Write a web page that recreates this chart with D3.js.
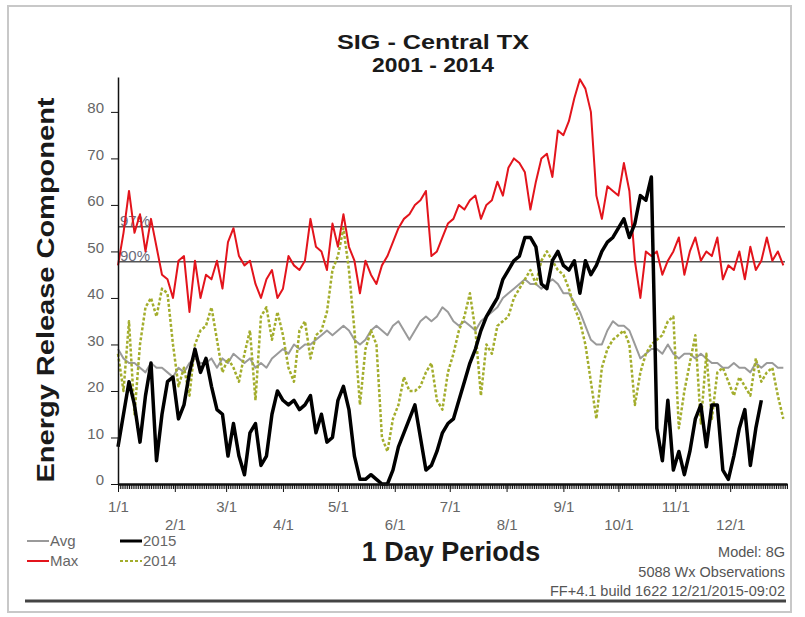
<!DOCTYPE html>
<html>
<head>
<meta charset="utf-8">
<script src="https://cdn.jsdelivr.net/npm/d3@7"></script>
<style>
  body { margin: 0; background: #fff; }
  svg { font-family: Arial, "Liberation Sans", sans-serif; }
  .axis path, .axis line { stroke: #111; }
  .axis text { fill: #666; font-size: 15px; }
</style>
</head>
<body>
<svg width="805" height="617"></svg>
<script>
'use strict';

// one value every STEP days, starting 1/1
var STEP = 3;

var avgVals = [
  29,27,26,26,25,24,26,25,25,24,
  23,25,24,26,27,26,26,27,25,27,
  26,28,27,26,27,25,26,25,27,28,
  29,28,30,29,30,30,31,32,33,32,
  33,34,33,31,30,31,33,34,33,32,
  34,35,33,31,33,35,36,35,36,38,
  37,35,34,35,34,33,35,36,37,38,
  40,41,42,43,44,43,43,42,43,44,
  43,41,41,39,37,34,31,30,30,33,
  35,34,34,33,30,27,28,29,29,28,
  30,28,27,28,28,27,28,27,26,26,
  25,25,26,25,25,24,26,25,26,26,
  25,25
];

var maxVals = [
  47,54,63,54,58,50,57,51,45,44,
  40,48,49,37,48,40,45,44,48,42,
  52,55,49,47,48,43,40,44,46,40,
  42,49,47,46,48,57,51,50,46,56,
  51,58,51,48,41,48,45,43,47,49,
  52,55,57,58,60,61,63,49,50,53,
  56,57,60,59,61,62,57,60,61,65,
  62,68,70,69,67,59,65,70,71,66,
  76,75,78,83,87,85,80,62,57,64,
  63,62,69,63,48,40,50,49,50,45,
  48,50,53,45,50,53,48,50,49,53,
  44,47,46,50,44,51,46,48,53,48,
  50,47
];

var vals2015 = [
  8,15,22,17,9,19,26,5,15,22,
  23,14,17,24,29,24,27,21,16,15,
  6,13,6,2,11,13,4,6,15,20,
  18,17,18,16,17,19,11,15,9,10,
  18,21,16,6,1,1,2,1,0,0,
  3,8,11,14,17,10,3,4,7,11,
  13,14,18,22,26,29,33,36,38,40,
  44,46,48,49,53,53,51,43,42,48,
  50,47,46,48,41,48,45,47,50,52,
  53,55,57,53,56,62,61,66,12,5,
  18,3,7,2,7,14,17,8,17,17,
  3,1,6,12,16,4,12,18
];

var vals2014 = [
  28,20,35,15,30,38,40,36,42,41,
  30,21,25,19,30,33,34,38,31,24,
  27,25,22,28,33,18,36,38,31,37,
  32,25,22,33,35,27,32,33,37,46,
  49,55,46,33,17,29,33,30,10,7,
  14,17,23,20,20,21,24,26,18,16,
  24,28,33,36,41,33,19,30,28,34,
  35,36,40,42,44,46,43,48,50,48,
  46,45,42,38,35,30,22,14,25,29,
  31,32,33,30,17,24,28,30,31,32,
  35,36,12,20,26,32,13,28,14,24,
  25,22,19,23,21,19,27,22,24,25,
  19,14
];

var pctNames = ['97%', '90%'];
var pctVals = [55.3, 47.8];
var yTicks = [0, 10, 20, 30, 40, 50, 60, 70, 80];
var infoLines = ['Model: 8G', '5088 Wx Observations', 'FF+4.1 build 1622 12/21/2015-09:02'];

var svg = d3.select('svg'),
    margin = {top: 77, right: 18, bottom: 133, left: 118},
    width = svg.attr('width') - margin.left - margin.right,
    height = svg.attr('height') - margin.top - margin.bottom;

// frame round the whole picture
svg.append('rect')
    .attr('x', 8).attr('y', 6)
    .attr('width', 783).attr('height', 606)
    .attr('fill', '#fff')
    .attr('stroke', '#c8c8c8')
    .attr('stroke-width', 2);

var canvas = svg.append('g')
    .attr('transform', 'translate(' + margin.left + ',' + margin.top + ')');

var start = new Date(2015, 0, 1), end = new Date(2016, 0, 1);
var x = d3.scaleTime().domain([start, end]).range([0, width]);
var y = d3.scaleLinear().domain([0, 87.5]).range([height, 0]);

function toPoints(vals) {
    return vals.map(function(v, i) {
        return {date: d3.timeDay.offset(start, i * STEP), value: v};
    });
}

// titles (glyphs a little wide, as in the original)
svg.append('text')
    .attr('x', 433).attr('y', 49)
    .attr('text-anchor', 'middle')
    .attr('textLength', 192)
    .attr('lengthAdjust', 'spacingAndGlyphs')
    .style('font-size', '21px').style('font-weight', 'bold').style('fill', '#1a1a1a')
    .text('SIG - Central TX');
svg.append('text')
    .attr('x', 433).attr('y', 72)
    .attr('text-anchor', 'middle')
    .attr('textLength', 122)
    .attr('lengthAdjust', 'spacingAndGlyphs')
    .style('font-size', '21px').style('font-weight', 'bold').style('fill', '#1a1a1a')
    .text('2001 - 2014');

svg.append('text')
    .attr('transform', 'translate(54,290) rotate(-90)')
    .attr('text-anchor', 'middle')
    .attr('textLength', 385)
    .attr('lengthAdjust', 'spacingAndGlyphs')
    .style('font-size', '24px').style('font-weight', 'bold').style('fill', '#1a1a1a')
    .text('Energy Release Component');

// percentile lines
pctVals.forEach(function(v, i) {
    canvas.append('line')
        .attr('x1', 0).attr('x2', width - 2)
        .attr('y1', y(v)).attr('y2', y(v))
        .attr('stroke', '#555').attr('stroke-width', 1.5);
    canvas.append('text')
        .attr('x', 2).attr('y', y(v) - 1)
        .style('font-size', '15px').style('fill', '#6a6a7a')
        .text(pctNames[i]);
});

var line = d3.line()
    .x(function(d) { return x(d.date); })
    .y(function(d) { return y(d.value); });

var series = [
    {name: 'Max', vals: maxVals, color: '#e3141c', w: 2, dash: null},
    {name: 'Avg', vals: avgVals, color: '#9a9a9a', w: 2, dash: null},
    {name: '2014', vals: vals2014, color: '#a3ad2c', w: 2.5, dash: '3,2'},
    {name: '2015', vals: vals2015, color: '#000', w: 3.5, dash: null}
];

canvas.selectAll('.series')
    .data(series)
    .enter()
    .append('path')
    .attr('class', 'series')
    .attr('fill', 'none')
    .attr('stroke', function(d) { return d.color; })
    .attr('stroke-width', function(d) { return d.w; })
    .attr('stroke-dasharray', function(d) { return d.dash; })
    .attr('stroke-linejoin', 'round')
    .attr('d', function(d) { return line(toPoints(d.vals)); });

// y axis
var yAxis = canvas.append('g')
    .attr('class', 'axis axis--y')
    .call(d3.axisLeft(y).tickValues(yTicks).tickSize(7).tickPadding(7).tickSizeOuter(0));
yAxis.select('.domain').attr('stroke-width', 1.5);
yAxis.selectAll('text').attr('dy', '0.05em');

// x axis: daily ticks, then month ticks with labels on two rows
var xDays = canvas.append('g')
    .attr('class', 'axis axis--x')
    .attr('transform', 'translate(0,' + height + ')')
    .call(d3.axisBottom(x).ticks(d3.timeDay.every(1)).tickSize(5).tickSizeOuter(0).tickFormat(''));
xDays.selectAll('.tick line').attr('stroke', '#222').attr('stroke-width', 1);
xDays.select('.domain').attr('stroke-width', 2.5);

var xMonths = canvas.append('g')
    .attr('class', 'axis axis--x')
    .attr('transform', 'translate(0,' + height + ')')
    .call(d3.axisBottom(x)
        .tickValues(d3.timeMonth.range(start, end))
        .tickSize(8)
        .tickFormat(d3.timeFormat('%-m/%-d')));
xMonths.select('.domain').remove();
xMonths.selectAll('.tick text')
    .attr('y', function(d, i) { return i % 2 ? 35 : 17; })
    .attr('dy', '0.71em');

// legend
var legend = [
    {label: 'Avg', color: '#9a9a9a', w: 2, dash: null, lx: 27, ly: 541},
    {label: 'Max', color: '#e3141c', w: 2, dash: null, lx: 27, ly: 561},
    {label: '2015', color: '#000', w: 3, dash: null, lx: 120, ly: 541},
    {label: '2014', color: '#a3ad2c', w: 2, dash: '3,2', lx: 120, ly: 561}
];
var lg = svg.selectAll('.legend')
    .data(legend)
    .enter()
    .append('g')
    .attr('class', 'legend');
lg.append('line')
    .attr('x1', function(d) { return d.lx; })
    .attr('x2', function(d) { return d.lx + 22; })
    .attr('y1', function(d) { return d.ly; })
    .attr('y2', function(d) { return d.ly; })
    .attr('stroke', function(d) { return d.color; })
    .attr('stroke-width', function(d) { return d.w; })
    .attr('stroke-dasharray', function(d) { return d.dash; });
lg.append('text')
    .attr('x', function(d) { return d.lx + 23; })
    .attr('y', function(d) { return d.ly + 5; })
    .style('font-size', '15px').style('fill', '#666')
    .text(function(d) { return d.label; });

svg.append('text')
    .attr('x', 451).attr('y', 561)
    .attr('text-anchor', 'middle')
    .style('font-size', '27px').style('font-weight', 'bold').style('fill', '#1a1a1a')
    .text('1 Day Periods');

svg.selectAll('.info')
    .data(infoLines)
    .enter()
    .append('text')
    .attr('class', 'info')
    .attr('x', 785)
    .attr('y', function(d, i) { return 557 + i * 19.5; })
    .attr('text-anchor', 'end')
    .style('font-size', '14.5px').style('fill', '#555')
    .text(function(d) { return d; });

svg.append('line')
    .attr('x1', 25).attr('x2', 786)
    .attr('y1', 601).attr('y2', 601)
    .attr('stroke', '#444').attr('stroke-width', 3);
</script>
</body>
</html>
